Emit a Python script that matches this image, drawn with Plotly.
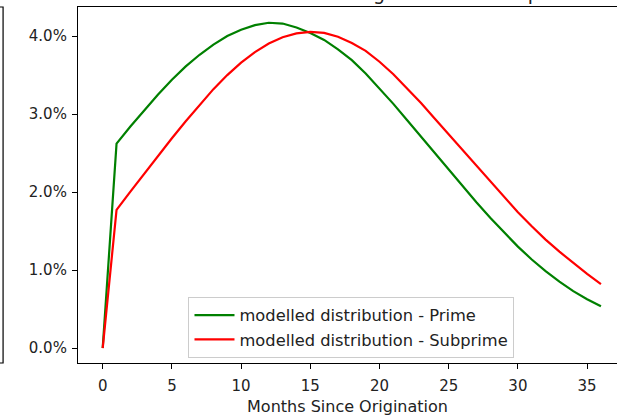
import plotly.graph_objects as go

months = list(range(0, 37))

prime_pct = [0.0, 2.62, 2.84, 3.05, 3.25, 3.44, 3.61, 3.76, 3.89, 4.00, 4.08,
             4.14, 4.17, 4.16, 4.11, 4.04, 3.95, 3.83, 3.69, 3.52, 3.33,
             3.13, 2.92, 2.71, 2.49, 2.28, 2.07, 1.87, 1.67, 1.48, 1.30,
             1.135, 0.985, 0.85, 0.73, 0.625, 0.535]

subprime_pct = [0.0, 1.77, 2.005, 2.237, 2.465, 2.689, 2.907, 3.119, 3.319, 3.499, 3.659,
                3.794, 3.904, 3.984, 4.034, 4.054, 4.04, 3.99, 3.91, 3.81, 3.67,
                3.51, 3.33, 3.14, 2.94, 2.74, 2.535, 2.33, 2.13, 1.93, 1.74,
                1.56, 1.39, 1.235, 1.09, 0.95, 0.82]

prime = [v / 100 for v in prime_pct]
subprime = [v / 100 for v in subprime_pct]

x_ticks = [0, 5, 10, 15, 20, 25, 30, 35]
y_ticks = [0.0, 0.01, 0.02, 0.03, 0.04]

series_names = ["modelled distribution - Prime", "modelled distribution - Subprime"]
series_colors = ["#008000", "#ff0000"]

title_text = "Modelled Loss Timing - Prime vs Subprime"
x_title = "Months Since Origination"

FONT = "DejaVu Sans"

fig = go.Figure()
for name, vals, col in zip(series_names, [prime, subprime], series_colors):
    fig.add_trace(go.Scatter(x=months, y=vals, mode="lines", name=name,
                             line=dict(color=col, width=2.2)))

axis_common = dict(showgrid=False, zeroline=False, showline=True, linecolor="black",
                   linewidth=1.2, ticks="outside", ticklen=5, tickwidth=1.2,
                   tickcolor="black", tickfont=dict(family=FONT, size=15, color="#222"))

fig.update_layout(
    width=617, height=416,
    margin=dict(l=78, r=0, t=7, b=53),
    paper_bgcolor="white", plot_bgcolor="white",
    font=dict(family=FONT, size=15, color="#222"),
    xaxis=dict(range=[-1.785, 37.16], tickvals=x_ticks, mirror=True, ticklabelstandoff=4,
               title=dict(text=x_title, font=dict(family=FONT, size=16, color="#222"), standoff=6),
               **axis_common),
    yaxis=dict(range=[-0.00192, 0.04372], tickvals=y_ticks, tickformat=".1%",
               ticklabelstandoff=2, **axis_common),
    legend=dict(x=0.5074, y=0.014, xanchor="center", yanchor="bottom",
                bgcolor="rgba(255,255,255,0.8)", bordercolor="#cccccc", borderwidth=1,
                font=dict(family=FONT, size=16.3, color="#222"), tracegroupgap=0,
                itemwidth=40),
    showlegend=True,
)

# neighbouring (cropped) subplot frame on the left edge
fig.add_shape(type="rect", xref="paper", yref="paper", x0=-0.3, x1=-0.139, y0=0, y1=1,
              line=dict(color="black", width=1.2), fillcolor="rgba(0,0,0,0)")

# title of the figure, mostly cropped at the top
fig.add_annotation(text=title_text, xref="paper", yref="paper", x=0.1874, y=1.0035,
                   xanchor="left", yanchor="bottom", showarrow=False,
                   font=dict(family=FONT, size=19, color="#222"))

fig.write_html("out.html", config={"displayModeBar": False})

# remove the default page margin so the figure sits at the window's top-left corner
with open("out.html", "r", encoding="utf-8") as f:
    html = f.read()
html = html.replace("<head>", "<head><style>html,body{margin:0;padding:0;overflow:hidden;}</style>", 1)
with open("out.html", "w", encoding="utf-8") as f:
    f.write(html)
